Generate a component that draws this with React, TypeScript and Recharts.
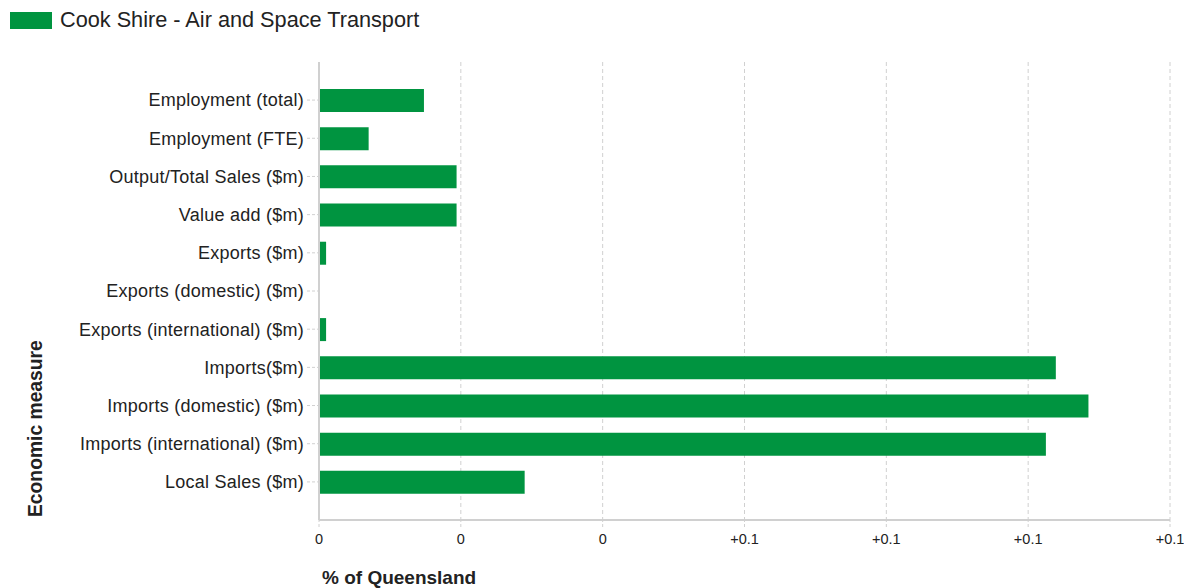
import React from 'react';
import { BarChart, Bar, XAxis, YAxis, CartesianGrid, Legend, Label } from 'recharts';

const seriesName = 'Cook Shire - Air and Space Transport';

const categories = [
  'Employment (total)',
  'Employment (FTE)',
  'Output/Total Sales ($m)',
  'Value add ($m)',
  'Exports ($m)',
  'Exports (domestic) ($m)',
  'Exports (international) ($m)',
  'Imports($m)',
  'Imports (domestic) ($m)',
  'Imports (international) ($m)',
  'Local Sales ($m)',
];

const values = [0.0148, 0.0070, 0.0194, 0.0194, 0.0010, 0, 0.0010, 0.1039, 0.1085, 0.1025, 0.0290];

const xTicks = [0, 0.02, 0.04, 0.06, 0.08, 0.1, 0.12];

const xAxisTitle = '% of Queensland';
const yAxisTitle = 'Economic measure';

const GREEN = '#009440';
const FONT = '"Liberation Sans", Arial, sans-serif';

const data = categories.map((c, i) => ({ name: c, value: values[i] }));

const fmt = (v: number) => {
  const r = Math.round(v * 10) / 10;
  return r > 0 ? `+${r.toFixed(1)}` : '0';
};

const LegendContent = () => (
  <div style={{ display: 'flex', alignItems: 'center', fontFamily: FONT }}>
    <span style={{ display: 'inline-block', width: 42, height: 17, background: GREEN, marginLeft: 2 }} />
    <span style={{ marginLeft: 8, fontSize: 21.7, color: '#222', lineHeight: '22px' }}>{seriesName}</span>
  </div>
);

export default function App() {
  return (
    <div style={{ width: 1184, height: 580, position: 'relative' }}>
      <BarChart
        width={1184}
        height={580}
        data={data}
        layout="vertical"
        margin={{ top: 54, right: 22, bottom: 0, left: 0 }}
        barCategoryGap={0}
      >
        <CartesianGrid horizontal={false} stroke="#d0d0d0" strokeDasharray="4 3" />
        <XAxis
          type="number"
          domain={[0, 0.12]}
          ticks={xTicks}
          tickFormatter={fmt}
          height={68}
          axisLine={{ stroke: '#d0d0d0', strokeWidth: 2 }}
          tickLine={{ stroke: '#d0d0d0', strokeDasharray: '3 2' }}
          tickSize={7}
          tickMargin={7}
          tick={{ fontSize: 14.5, fill: '#222', fontFamily: FONT }}
          interval={0}
        >
          <Label
            content={(props: any) => {
              const vb = props.viewBox || {};
              return (
                <text
                  x={vb.x + 3}
                  y={vb.y + vb.height - 4}
                  fontSize={19}
                  fontWeight="bold"
                  fill="#222"
                  fontFamily={FONT}
                  textAnchor="start"
                >
                  {xAxisTitle}
                </text>
              );
            }}
          />
        </XAxis>
        <YAxis
          type="category"
          dataKey="name"
          width={311}
          padding={{ top: 19, bottom: 19 }}
          axisLine={{ stroke: '#d0d0d0', strokeWidth: 2 }}
          tickLine={{ stroke: '#d0d0d0', strokeDasharray: '3 2' }}
          tickSize={12}
          tickMargin={3}
          tick={{ fontSize: 18, fill: '#222', fontFamily: FONT, letterSpacing: 0.25 }}
          interval={0}
        >
          <Label
            content={(props: any) => {
              const vb = props.viewBox || {};
              const x = vb.x + 27;
              const y = vb.y + vb.height - 3;
              return (
                <text
                  x={x}
                  y={y}
                  transform={`rotate(-90 ${x} ${y})`}
                  fontSize={19.3}
                  fontWeight="bold"
                  fill="#222"
                  fontFamily={FONT}
                  textAnchor="start"
                  dominantBaseline="central"
                >
                  {yAxisTitle}
                </text>
              );
            }}
          />
        </YAxis>
        <Legend
          layout="horizontal"
          verticalAlign="middle"
          align="center"
          wrapperStyle={{ top: 1, left: 0, width: 600, height: 24 }}
          content={() => <LegendContent />}
        />
        <Bar dataKey="value" name={seriesName} fill={GREEN} barSize={23} isAnimationActive={false} />
      </BarChart>
    </div>
  );
}
